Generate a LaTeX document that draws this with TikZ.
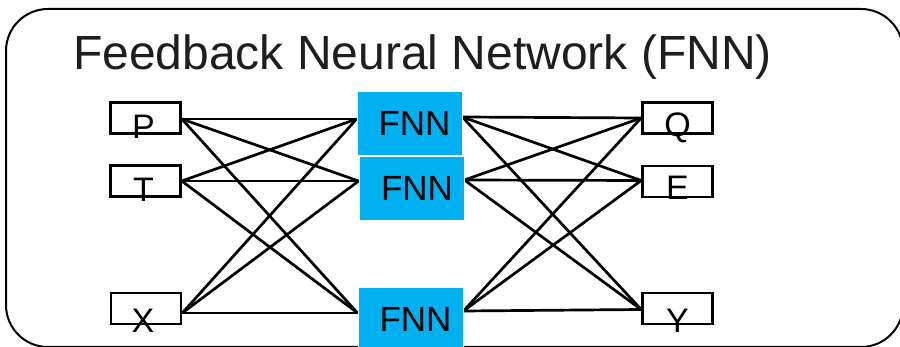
\documentclass[tikz,border=0pt]{standalone}
\usepackage{fontspec}
\setmainfont{Liberation Sans}
\definecolor{fnnblue}{RGB}{0,176,240}
\definecolor{titlegray}{RGB}{30,30,30}
\tikzset{
  iobox/.style={draw=black, line width=2.6pt, minimum width=70pt, minimum height=31pt, inner sep=0pt, fill=white},
  iolbl/.style={anchor=base, inner sep=0pt, font=\fontsize{34}{34}\selectfont},
  fnnbox/.style={fill=fnnblue, draw=white, line width=0.8pt, minimum width=105pt, minimum height=64pt, inner sep=0pt, font=\fontsize{35}{35}\selectfont, text=black},
  wire/.style={draw=black, line width=2.7pt},
  frame/.style={draw=black, line width=2pt, rounded corners=42pt}
}
\begin{document}
\begin{tikzpicture}[x=1pt,y=-1pt]
\useasboundingbox (0,0) rectangle (900,347);
\clip (0,0) rectangle (900,347);
\draw[frame] (6,9) rectangle (903,347);
\node[anchor=base west, inner sep=0pt, text=titlegray, font=\fontsize{48}{48}\selectfont] (title) at (73,70) {Feedback Neural Network (FNN)};
% nodes
\node[iobox] (P) at (145.5,118) {};
\node[iobox] (T) at (145.5,181) {};
\node[iobox] (X) at (146,308.5) {};
\node[iobox] (Q) at (677.5,118) {};
\node[iobox] (E) at (677.5,181.5) {};
\node[iobox] (Y) at (677.5,308.5) {};
% attachment points
\coordinate (Pe) at ([yshift=-1pt]P.east);
\coordinate (Te) at (T.east);
\coordinate (Xe) at ([yshift=-4.5pt]X.east);
\coordinate (Qw) at (Q.west);
\coordinate (Ew) at ([yshift=1pt]E.west);
\coordinate (Yw) at ([yshift=-1pt]Y.west);
\node[fnnbox] (F1) at (409.5,123) {};
\node[fnnbox] (F2) at (411.5,188) {};
\node[fnnbox] (F3) at (410.5,319) {};
\coordinate (F1w) at ([yshift=4pt]F1.west);
\coordinate (F2w) at ([yshift=7pt]F2.west);
\coordinate (F3w) at ([yshift=6pt]F3.west);
\coordinate (F1e) at ([yshift=6pt]F1.east);
\coordinate (F2e) at ([yshift=8pt]F2.east);
\coordinate (F3e) at ([yshift=8pt]F3.east);
% wires
\foreach \a in {Pe,Te,Xe}{
  \foreach \b in {F1w,F2w,F3w}{
    \draw[wire] (\a) -- (\b);
  }
}
\foreach \a in {F1e,F2e,F3e}{
  \foreach \b in {Qw,Ew,Yw}{
    \draw[wire] (\a) -- (\b);
  }
}
% redraw boxes on top
\node[iobox] at (P) {};
\node[iobox] at (T) {};
\node[iobox] at (X) {};
\node[iobox] at (Q) {};
\node[iobox] at (E) {};
\node[iobox] at (Y) {};
\node[fnnbox] at (F1) {};
\node[fnnbox] at (F2) {};
\node[fnnbox] at (F3) {};
\node[fnnbox, fill=none, draw=none] (F1t) at ([xshift=5pt]F1.center) {FNN};
\node[fnnbox, fill=none, draw=none] (F2t) at ([xshift=5.5pt]F2.center) {FNN};
\node[fnnbox, fill=none, draw=none] (F3t) at ([xshift=5pt]F3.center) {FNN};
% labels
\node[iolbl] (Pl) at ([xshift=-2pt,yshift=-4pt]P.south) {P};
\node[iolbl] (Tl) at ([xshift=-2pt,yshift=-4pt]T.south) {T};
\node[iolbl] (Xl) at ([xshift=-3pt,yshift=-7pt]X.south) {X};
\node[iolbl] (Ql) at ([yshift=-2pt]Q.south) {Q};
\node[iolbl] (El) at ([yshift=-1pt]E.south) {E};
\node[iolbl] (Yl) at ([yshift=-7pt]Y.south) {Y};
\end{tikzpicture}
\end{document}
